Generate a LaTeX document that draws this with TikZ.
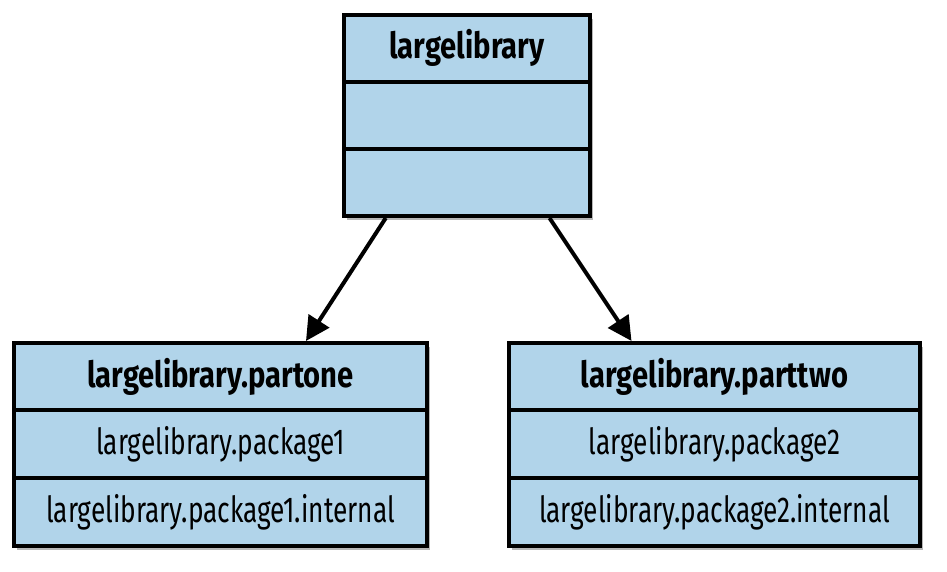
\documentclass[tikz,border=0pt]{standalone}
\usepackage{fontspec}
\setmainfont{Fira Sans}[FakeStretch=0.73, BoldFeatures={FakeStretch=0.81}]
\usetikzlibrary{arrows.meta,shadows,calc}
\definecolor{boxblue}{RGB}{177,212,234}
\tikzset{
  box/.style={draw=black, line width=4pt, fill=boxblue, rectangle, inner sep=0pt,
    drop shadow={shadow xshift=3pt, shadow yshift=-4pt, opacity=0.4, fill=black!70}},
  divider/.style={line width=4pt, draw=black},
  title/.style={font=\fontsize{36}{40}\selectfont\bfseries, inner sep=0pt},
  entry/.style={font=\fontsize{36}{40}\selectfont, inner sep=0pt},
  arr/.style={line width=4pt, -{Triangle[length=24pt,width=24pt]}}
}
\begin{document}
\begin{tikzpicture}[x=1pt,y=-1pt]
\useasboundingbox[fill=white] (0,0) rectangle (947,572);
% top box
\node[box, minimum width=246pt, minimum height=201pt] (top) at (467,115.5) {};
\draw[divider] (344,82) -- (590,82);
\draw[divider] (344,149) -- (590,149);
\node[title] (toptitle) at (467,48) {largelibrary};
% left box
\node[box, minimum width=413pt, minimum height=203pt] (left) at (220.5,444.5) {};
\draw[divider] (14,410) -- (427,410);
\draw[divider] (14,478) -- (427,478);
\node[title] (lefttitle) at (220.5,376.5) {largelibrary.partone};
\node[entry] (leftpkg) at (220.5,444) {largelibrary.package1};
\node[entry] (leftint) at (220.5,512) {largelibrary.package1.internal};
% right box
\node[box, minimum width=411pt, minimum height=203pt] (right) at (714.5,444.5) {};
\draw[divider] (509,410) -- (920,410);
\draw[divider] (509,478) -- (920,478);
\node[title] (righttitle) at (714.5,376.5) {largelibrary.parttwo};
\node[entry] (rightpkg) at (714.5,444) {largelibrary.package2};
\node[entry] (rightint) at (714.5,512) {largelibrary.package2.internal};
% arrows
\coordinate (s1) at ($(top.south west)!0.175!(top.south east)$);
\coordinate (s2) at ($(top.south west)!0.83!(top.south east)$);
\coordinate (e1) at ($(left.north west)!0.705!(left.north east)$);
\coordinate (e2) at ($(right.north west)!0.30!(right.north east)$);
\draw[arr] (s1) -- (e1);
\draw[arr] (s2) -- (e2);
\end{tikzpicture}
\end{document}
